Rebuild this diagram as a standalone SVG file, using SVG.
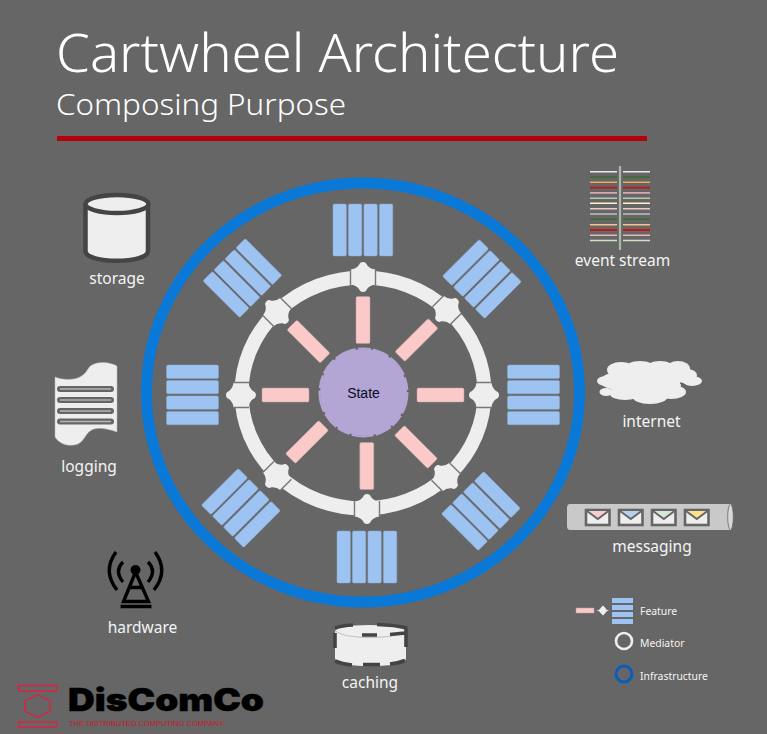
<svg xmlns="http://www.w3.org/2000/svg" xmlns:xlink="http://www.w3.org/1999/xlink" width="767" height="734" viewBox="0 0 767 734">
<style>
.lbl{font-family:"Noto Sans","Open Sans",sans-serif;font-size:15.500px;fill:#f4f4f4;text-anchor:middle}
.leg{font-family:"Noto Sans","Open Sans",sans-serif;font-size:10.400px;fill:#f4f4f4}
.fb{fill:#9dc3f3;stroke:#8fa8c8;stroke-width:.5}
.sp{fill:#fcc9c9;stroke:#b9a0a0;stroke-width:.5}
.med{fill:#eeeeee}
.tick{stroke:#777;stroke-width:1.400;fill:none}
.dk{fill:#eeeeee;stroke:#444;stroke-width:4.500}
.lg{fill:none;stroke:#666;stroke-width:6;stroke-linecap:round}
.li{fill:none;stroke:#b4b4b4;stroke-width:1.500}
.env{fill:#eeeeee;stroke:#666;stroke-width:2.600}
.ant{fill:none;stroke:#000;stroke-width:3.400}
.es{stroke-width:1.600;fill:none}
.cd{fill:none;stroke:#444;stroke-width:3.600}
</style>
<defs>
<g id="star"><path class="med" d="M0,-15Q3,-15 4,-12Q7,-8 12.500,-7.500L12.500,7.500Q7,8 4,12Q3,15 0,15Q-3,15 -4,12Q-7,8 -12.500,7.500L-12.500,-7.500Q-7,-8 -4,-12Q-3,-15 0,-15Z"/><path class="tick" d="M-12.500,-8V8M12.500,-8V8"/></g>
<g id="block"><rect class="fb" x="-30" y="-26" width="13.400" height="52" rx="1.500"/><rect class="fb" x="-14.600" y="-26" width="13.400" height="52" rx="1.500"/><rect class="fb" x="0.900" y="-26" width="13.400" height="52" rx="1.500"/><rect class="fb" x="16.400" y="-26" width="13.400" height="52" rx="1.500"/></g>
<rect id="spoke" class="sp" x="-7" y="-23.500" width="14" height="47" rx="1.500"/>
</defs>
<rect width="767" height="734" fill="#666666"/>
<g id="title">
<text x="56" y="72" font-family="'Noto Sans','Open Sans',sans-serif" font-size="53" font-weight="300" fill="#ffffff" textLength="563" lengthAdjust="spacingAndGlyphs">Cartwheel Architecture</text>
<text x="56" y="115" font-family="'Noto Sans','Open Sans',sans-serif" font-size="30" font-weight="300" fill="#ffffff" textLength="290" lengthAdjust="spacingAndGlyphs">Composing Purpose</text>
<rect x="57" y="136" width="590" height="5" fill="#b5000f"/>
</g>
<g id="infrastructure"><ellipse cx="363" cy="392.500" rx="216.500" ry="209.500" fill="none" stroke="#0a78d6" stroke-width="11"/></g>
<g id="connectors"><ellipse cx="363" cy="393" rx="121.500" ry="115.500" fill="none" stroke="#eeeeee" stroke-width="14"/></g>
<g id="mediators">
<use xlink:href="#star" href="#star" transform="translate(363,277)"/>
<use xlink:href="#star" href="#star" transform="translate(447,310) rotate(45)"/>
<use xlink:href="#star" href="#star" transform="translate(484,395) rotate(90)"/>
<use xlink:href="#star" href="#star" transform="translate(446,477) rotate(-45)"/>
<use xlink:href="#star" href="#star" transform="translate(367,509)"/>
<use xlink:href="#star" href="#star" transform="translate(277,476) rotate(45)"/>
<use xlink:href="#star" href="#star" transform="translate(241,395) rotate(90)"/>
<use xlink:href="#star" href="#star" transform="translate(277,312) rotate(-45)"/>
</g>
<g id="features">
<use xlink:href="#block" href="#block" transform="translate(363,230)"/>
<use xlink:href="#block" href="#block" transform="translate(482,279) rotate(45)"/>
<use xlink:href="#block" href="#block" transform="translate(533.500,395) rotate(90)"/>
<use xlink:href="#block" href="#block" transform="translate(481,511) rotate(-45)"/>
<use xlink:href="#block" href="#block" transform="translate(367,557)"/>
<use xlink:href="#block" href="#block" transform="translate(241,508) rotate(45)"/>
<use xlink:href="#block" href="#block" transform="translate(192.500,395) rotate(90)"/>
<use xlink:href="#block" href="#block" transform="translate(242.500,278) rotate(-45)"/>
<use xlink:href="#spoke" href="#spoke" transform="translate(363,320)"/>
<use xlink:href="#spoke" href="#spoke" transform="translate(416.500,340) rotate(45)"/>
<use xlink:href="#spoke" href="#spoke" transform="translate(440.500,395) rotate(90)"/>
<use xlink:href="#spoke" href="#spoke" transform="translate(416,447) rotate(-45)"/>
<use xlink:href="#spoke" href="#spoke" transform="translate(366.800,466)"/>
<use xlink:href="#spoke" href="#spoke" transform="translate(307,442) rotate(45)"/>
<use xlink:href="#spoke" href="#spoke" transform="translate(285.500,395) rotate(90)"/>
<use xlink:href="#spoke" href="#spoke" transform="translate(308.500,341.500) rotate(-45)"/>
</g>
<g id="state">
<circle cx="363.500" cy="392.500" r="43.500" fill="#b3a6d5"/>
<circle cx="363.500" cy="392.500" r="44" fill="none" stroke="#b3a6d5" stroke-width="2" stroke-dasharray="22 2.500 13 2 17 2.500"/>
<text x="363.500" y="398" font-family="'Liberation Sans',Arial,sans-serif" font-size="14" fill="#0a0a24" text-anchor="middle">State</text>
</g>
<g id="storage">
<path class="dk" d="M85.500,204V251C85.500,264 148,264 148,251V204"/>
<ellipse class="dk" cx="117" cy="204" rx="31.500" ry="9" fill="#f4f4f4"/>
<text class="lbl" x="117" y="284">storage</text>
</g>
<g id="logging">
<path fill="#eeeeee" stroke="#bbb" stroke-width=".5" d="M55,377C62,380 76,381 83,375C88,371 88,367 92,365C99,361 110,362 117,366V432C108,429 97,426 90,431C85,435 84,441 78,444C70,447 60,445 55,437Z"/>
<path class="lg" d="M60,389H111M60,400H111M60,411H111M60,421.500H111"/>
<path class="li" d="M60,389H111M60,400H111M60,411H111M60,421.500H111"/>
<text class="lbl" x="89" y="472">logging</text>
</g>
<g id="hardware">
<circle cx="135.500" cy="570" r="5" fill="#000"/>
<path class="ant" stroke-linejoin="miter" d="M135.500,572L123.500,601.500H148.500L135.500,572M129,587.500H142"/>
<path d="M120.500,606.500H151.500" stroke="#000" stroke-width="3.500" fill="none"/>
<path class="ant" d="M116,552Q102,571 117,590M123,562Q114,571 123,582M155,552Q169,571 154,590M148,562Q157,571 148,582"/>
<text class="lbl" x="142.500" y="633">hardware</text>
</g>
<g id="caching">
<path d="M335,632Q335,625 370,625Q406,625 406,632V658Q406,666 370,666Q335,666 335,658Z" fill="#eeeeee"/>
<path d="M335,630C340,640 400,640 406,630" fill="none" stroke="#aaa" stroke-width=".7"/>
<path class="cd" d="M335,628Q342,625.500 353,625M377,624.500Q395,625 407,628M362,635H377M390,634.500L405,633M335,633V648M406,628V647M335,661Q342,664 352,665M363,664.500H380M390,664Q399,663 405,660.500"/>
<text class="lbl" x="370" y="688">caching</text>
</g>
<g id="event-stream">
<path d="M620,166V250" stroke="#a9b7a9" stroke-width="2.200" fill="none"/>
<g class="es">
<path stroke="#e8e8e8" d="M590,171.700H617M623,171.700H650"/>
<path stroke="#3a6e30" d="M590,177H617M623,177H650"/>
<path stroke="#f0a860" d="M590,182.300H617M623,182.300H650"/>
<path stroke="#c01818" d="M590,187.600H617M623,187.600H650"/>
<path stroke="#d8a8b0" d="M590,192.900H617M623,192.900H650"/>
<path stroke="#b8c8b0" d="M590,198.200H617M623,198.200H650"/>
<path stroke="#fff0c8" d="M590,203.300H617M623,203.300H650"/>
<path stroke="#f0c8d0" d="M590,208.700H617M623,208.700H650"/>
<path stroke="#c0c0c0" d="M590,214H617M623,214H650"/>
<path stroke="#3a6e30" d="M590,219.300H617M623,219.300H650"/>
<path stroke="#f8c090" d="M590,224.700H617M623,224.700H650"/>
<path stroke="#c01818" stroke-width="2.200" d="M590,230H617M623,230H650"/>
<path stroke="#e0b8c0" d="M590,235.200H617M623,235.200H650"/>
<path stroke="#d0e0c8" d="M590,240.500H617M623,240.500H650"/>
</g>
<text class="lbl" x="622.500" y="266">event stream</text>
</g>
<g id="internet">
<g fill="#eeeeee">
<ellipse cx="621" cy="370" rx="14" ry="8"/><ellipse cx="640" cy="369" rx="16" ry="8"/><ellipse cx="660" cy="369" rx="15" ry="8"/><ellipse cx="678" cy="369" rx="12" ry="8"/>
<ellipse cx="692" cy="381" rx="10" ry="5"/><ellipse cx="687" cy="375" rx="10" ry="6"/><ellipse cx="604" cy="381" rx="7" ry="4.500"/>
<ellipse cx="620" cy="381" rx="20" ry="9"/><ellipse cx="645" cy="385" rx="36" ry="14"/><ellipse cx="606" cy="392" rx="6.500" ry="4"/>
<ellipse cx="625" cy="394" rx="15" ry="6"/><ellipse cx="650" cy="396" rx="18" ry="8"/><ellipse cx="671" cy="392" rx="15" ry="7"/>
<ellipse cx="668" cy="378" rx="20" ry="7"/>
</g>
<path d="M680,383Q686,384 689,390" fill="none" stroke="#666" stroke-width="1.400"/>
<text class="lbl" x="651.500" y="427">internet</text>
</g>
<g id="messaging">
<path d="M570,504H730V530H570Q567,530 567,526V508Q567,504 570,504Z" fill="#c9c9c9"/>
<ellipse cx="730.500" cy="517" rx="2.800" ry="13" fill="#d8d8d8" stroke="#666" stroke-width=".8"/>
<g><rect class="env" x="586" y="510" width="23.500" height="15"/><path fill="#f8cecc" d="M587.500,511H608L597.800,518Z"/><path d="M587,511L597.800,519L608.500,511" fill="none" stroke="#666" stroke-width="2"/></g>
<g><rect class="env" x="619" y="510" width="23.500" height="15"/><path fill="#b8d0f0" d="M620.500,511H641L630.800,518Z"/><path d="M620,511L630.800,519L641.500,511" fill="none" stroke="#666" stroke-width="2"/></g>
<g><rect class="env" x="652" y="510" width="23.500" height="15"/><path fill="#d5e8d4" d="M653.500,511H674L663.800,518Z"/><path d="M653,511L663.800,519L674.500,511" fill="none" stroke="#666" stroke-width="2"/></g>
<g><rect class="env" x="685" y="510" width="23.500" height="15"/><path fill="#ffe08c" d="M686.500,511H707L696.800,518Z"/><path d="M686,511L696.800,519L707.500,511" fill="none" stroke="#666" stroke-width="2"/></g>
<text class="lbl" x="652" y="552">messaging</text>
</g>
<g id="legend">
<rect class="sp" x="576" y="608" width="18" height="5"/>
<path class="med" d="M596.500,610.500Q600,610 601,607.500L603,605.500L605,607.500Q606,610 609,610.500Q606,611 605,613.500L603,615.500L601,613.500Q600,611 596.500,610.500Z"/>
<g fill="#9dc3f3"><rect x="612" y="598" width="21" height="5"/><rect x="612" y="605" width="21" height="5"/><rect x="612" y="612" width="21" height="5"/><rect x="612" y="619" width="21" height="5"/></g>
<text class="leg" x="640" y="614.500">Feature</text>
<circle cx="624" cy="641" r="8" fill="none" stroke="#eeeeee" stroke-width="2.600"/>
<text class="leg" x="640" y="646.500">Mediator</text>
<circle cx="624" cy="674" r="8" fill="none" stroke="#0a5cc0" stroke-width="3"/>
<text class="leg" x="640" y="679.500">Infrastructure</text>
</g>
<g id="logo">
<g fill="none" stroke="#e0203f" stroke-width="1.400">
<rect x="18.500" y="685.500" width="38" height="5.500"/><rect x="18.500" y="722" width="38" height="5"/>
<path d="M37.500,694.500L50,701V711L37.500,717.500L25,711V701Z"/>
</g>
<text x="68" y="711" font-family="Inter,'Liberation Sans',sans-serif" font-size="31" font-weight="900" fill="#000" stroke="#000" stroke-width=".5" textLength="196" lengthAdjust="spacingAndGlyphs">DisComCo</text>
<text x="69" y="726" font-family="'Liberation Sans',Arial,sans-serif" font-size="8" fill="#c8182c" textLength="155" lengthAdjust="spacingAndGlyphs">THE DISTRIBUTED COMPUTING COMPANY</text>
</g>
</svg>
